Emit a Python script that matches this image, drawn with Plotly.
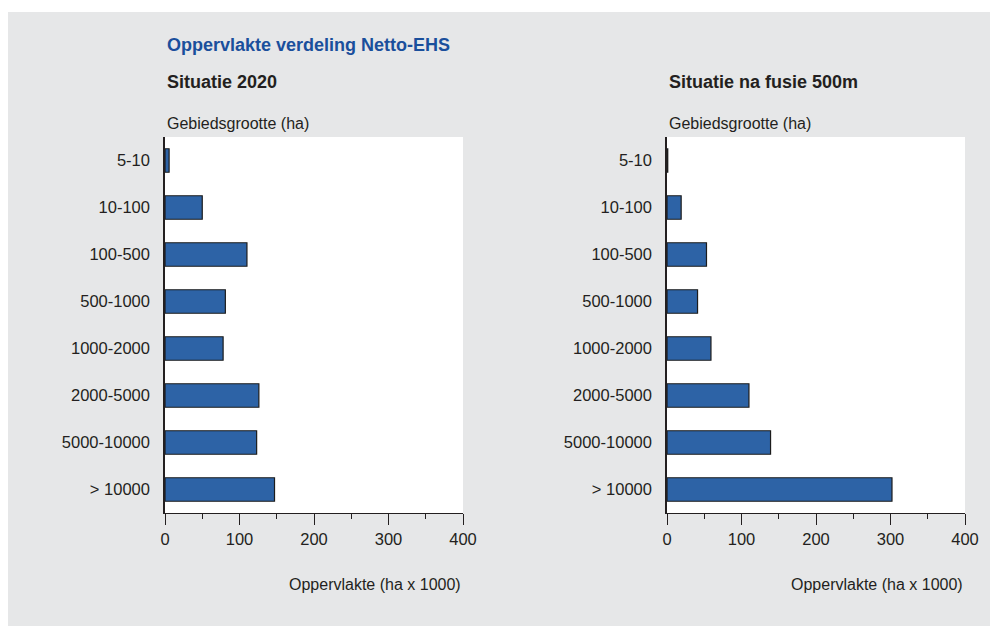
import plotly.graph_objects as go
from plotly.subplots import make_subplots

categories = ["5-10", "10-100", "100-500", "500-1000", "1000-2000", "2000-5000", "5000-10000", "> 10000"]
values_2020 = [5.5, 50, 110, 81, 78, 126, 123, 147]
values_fusie = [1, 19, 53, 41, 59, 110, 139, 302]
x_ticks = [0, 100, 200, 300, 400]

title_main = "Oppervlakte verdeling Netto-EHS"
title_left = "Situatie 2020"
title_right = "Situatie na fusie 500m"
y_title = "Gebiedsgrootte (ha)"
x_title = "Oppervlakte (ha x 1000)"

FONT = "Liberation Sans, Arial, sans-serif"
BG = "#e6e7e8"
BAR = "#2d63a6"
LINE = "#231f20"
TXT = "#231f20"

OFF = 8  # page body margin
W, H = 998, 626
L, R, T, B = 157, 41, 129, 121
PW, PH = W - L - R, H - T - B


def px_x(sx):
    return (sx - OFF - L) / PW


def px_y(sy):
    return (H - B - (sy - OFF)) / PH


fig = make_subplots(rows=1, cols=2)

for i, vals in enumerate([values_2020, values_fusie], start=1):
    fig.add_trace(
        go.Bar(
            x=vals,
            y=categories,
            orientation="h",
            marker=dict(color=BAR, line=dict(color="#1c1c1c", width=1.2)),
            hoverinfo="x+y",
            showlegend=False,
        ),
        row=1,
        col=i,
    )

axis_x = dict(
    range=[0, 400],
    tickvals=x_ticks,
    ticks="outside",
    ticklen=11,
    tickwidth=1,
    tickcolor=LINE,
    showline=True,
    linecolor=LINE,
    linewidth=1,
    showgrid=False,
    zeroline=False,
    tickfont=dict(family=FONT, size=16.5, color=TXT),
    minor=dict(dtick=50, ticks="outside", ticklen=5, tickcolor=LINE, tickwidth=1, showgrid=False),
    fixedrange=True,
)
axis_y = dict(
    autorange="reversed",
    showline=True,
    linecolor=LINE,
    linewidth=1.5,
    ticks="",
    showgrid=False,
    tickfont=dict(family=FONT, size=16.5, color=TXT),
    ticklabelstandoff=10,
    fixedrange=True,
)

fig.update_xaxes(**axis_x)
fig.update_yaxes(**axis_y)
fig.update_xaxes(domain=[0, px_x(463)], row=1, col=1)
fig.update_xaxes(domain=[px_x(667), 1], row=1, col=2)

annotations = [
    dict(text="<b>" + title_main + "</b>", x=px_x(165), y=px_y(45), font=dict(size=18, color="#1a4f9c")),
    dict(text="<b>" + title_left + "</b>", x=px_x(165), y=px_y(82), font=dict(size=18, color=TXT)),
    dict(text="<b>" + title_right + "</b>", x=px_x(667), y=px_y(82), font=dict(size=18, color=TXT)),
    dict(text=y_title, x=px_x(165), y=px_y(123), font=dict(size=16, color=TXT)),
    dict(text=y_title, x=px_x(667), y=px_y(123), font=dict(size=16, color=TXT)),
    dict(text=x_title, x=px_x(463), y=px_y(584), xanchor="right", font=dict(size=16, color=TXT)),
    dict(text=x_title, x=px_x(965), y=px_y(584), xanchor="right", font=dict(size=16, color=TXT)),
]
for a in annotations:
    a.setdefault("xanchor", "left")
    a["font"]["family"] = FONT
    fig.add_annotation(xref="paper", yref="paper", yanchor="middle", showarrow=False, **a)

# white strip above the grey panel
fig.add_shape(type="rect", xref="paper", yref="paper", x0=px_x(OFF), x1=px_x(W + OFF), y0=px_y(12), y1=px_y(OFF),
              fillcolor="white", line=dict(width=0), layer="below")

fig.update_layout(
    width=W,
    height=H,
    margin=dict(l=L, r=R, t=T, b=B, autoexpand=False),
    paper_bgcolor=BG,
    plot_bgcolor="white",
    bargap=0.5,
    font=dict(family=FONT, color=TXT),
)

fig.write_html("out.html", config={"displayModeBar": False})
